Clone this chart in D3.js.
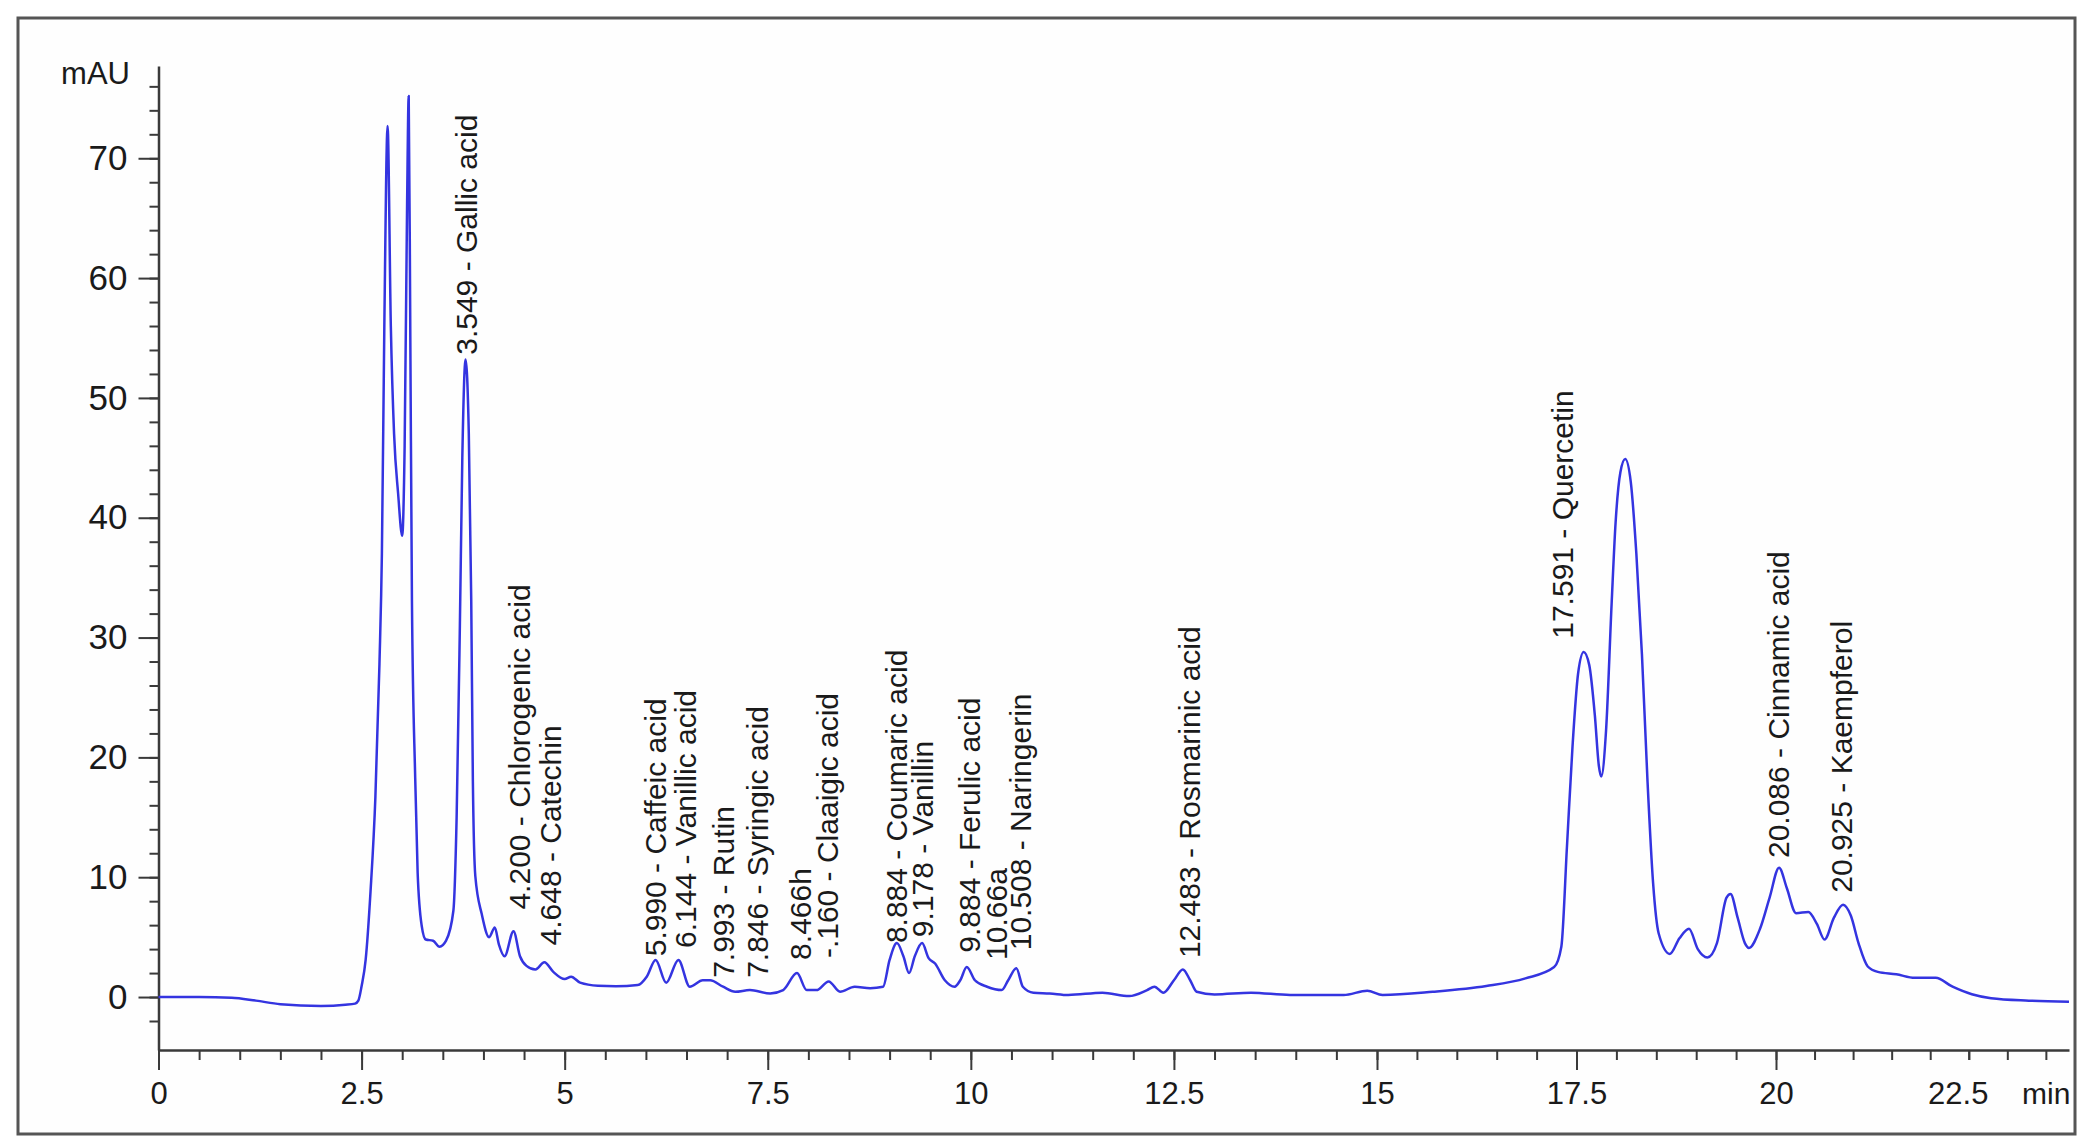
<!DOCTYPE html>
<html>
<head>
<meta charset="utf-8">
<script src="https://cdn.jsdelivr.net/npm/d3@7"></script>
<style>
    body { margin: 0; background: #fff; }
    text { font-family: "Liberation Sans", Arial, sans-serif; fill: #1a1a1a; }
</style>
</head>
<body>
<svg id="chart" width="2093" height="1145"></svg>
<script>
// Retention time (min) and absorbance (mAU)
const times = [0, 0.5, 0.9, 1.2, 1.5, 2.0, 2.3, 2.42, 2.46, 2.50, 2.55, 2.61, 2.67, 2.72, 2.75, 2.78, 2.82,
    2.86, 2.90, 2.95, 3.0, 3.03, 3.06, 3.08, 3.10, 3.12, 3.16, 3.19, 3.24, 3.29, 3.38, 3.46, 3.54, 3.63,
    3.67, 3.71, 3.74, 3.78, 3.82, 3.85, 3.87, 3.90, 3.98, 4.07, 4.14, 4.19, 4.26, 4.37, 4.45, 4.53, 4.64,
    4.75, 4.86, 5.0, 5.08, 5.19, 5.41, 5.63, 5.90, 6.01, 6.12, 6.25, 6.40, 6.54, 6.70, 6.79, 6.95, 7.10,
    7.28, 7.53, 7.69, 7.86, 7.98, 8.10, 8.25, 8.39, 8.57, 8.76, 8.92, 9.0, 9.09, 9.17, 9.24, 9.31, 9.40,
    9.48, 9.56, 9.68, 9.80, 9.87, 9.95, 10.05, 10.20, 10.38, 10.46, 10.56, 10.64, 10.77, 10.97, 11.2,
    11.62, 11.95, 12.17, 12.26, 12.37, 12.50, 12.61, 12.70, 12.78, 13.0, 13.45, 13.93, 14.59, 14.88,
    15.07, 15.70, 16.37, 16.86, 17.22, 17.31, 17.38, 17.45, 17.52, 17.59, 17.66, 17.73, 17.78, 17.81,
    17.87, 17.94, 17.99, 18.05, 18.11, 18.18, 18.25, 18.32, 18.39, 18.46, 18.53, 18.67, 18.79, 18.91,
    19.02, 19.14, 19.26, 19.38, 19.43, 19.52, 19.61, 19.66, 19.80, 19.92, 20.04, 20.14, 20.26, 20.42,
    20.53, 20.63, 20.75, 20.87, 20.97, 21.07, 21.19, 21.32, 21.56, 21.80, 22.07, 22.29, 22.54, 22.79,
    23.28, 23.8];
const absorbance = [0, 0.0, -0.05, -0.3, -0.6, -0.75, -0.65, -0.55, -0.3, 0.9, 3.1, 8.8, 16.7, 27.8, 37, 56, 72.7,
    56, 47, 42, 38.5, 46, 66, 75.2, 55, 33, 18.3, 10.4, 5.95, 4.8, 4.7, 4.2, 4.7, 7.2,
    15, 31, 45, 53.2, 47, 33, 18, 10.1, 6.9, 5.0, 5.8, 4.4, 3.4, 5.5, 3.4, 2.6, 2.3,
    2.9, 2.1, 1.5, 1.7, 1.2, 0.94, 0.9, 1.0, 1.7, 3.1, 1.2, 3.1, 0.86, 1.4, 1.4, 0.86, 0.44,
    0.58, 0.3, 0.58, 2.0, 0.58, 0.58, 1.3, 0.44, 0.86, 0.74, 0.86, 3.1, 4.5, 3.4, 2.0, 3.4, 4.5,
    3.25, 2.8, 1.4, 0.86, 1.4, 2.5, 1.4, 0.86, 0.58, 1.4, 2.4, 0.86, 0.36, 0.3, 0.17,
    0.36, 0.08, 0.58, 0.86, 0.36, 1.4, 2.3, 1.4, 0.44, 0.22, 0.36, 0.17, 0.17, 0.53,
    0.17, 0.44, 0.92, 1.56, 2.5, 4.2, 12.5, 20.9, 27, 28.8, 27.7, 23.5, 19.3, 18.4,
    22.2, 32.8, 39.6, 43.8, 44.9, 43, 37, 28.6, 18, 9.5, 5.3, 3.6, 4.9, 5.7,
    4.0, 3.3, 4.5, 8.3, 8.6, 6.6, 4.5, 4.1, 5.7, 8.3, 10.8, 9.1, 7.0, 7.1,
    6.1, 4.8, 6.6, 7.7, 6.8, 4.5, 2.55, 2.1, 1.9, 1.6, 1.6, 0.86, 0.23, -0.1,
    -0.3, -0.4];

// Peak annotations: text, and where the text starts (min, mAU)
const peakLabels = ["3.549 - Gallic acid", "4.200 - Chlorogenic acid", "4.648 - Catechin",
    "5.990 - Caffeic acid", "6.144 - Vanillic acid", "7.993 - Rutin", "7.846 - Syringic acid",
    "8.466h", "-.160 - Claaigic acid", "8.884 - Coumaric acid", "9.178 - Vanillin",
    "9.884 - Ferulic acid", "10.66a", "10.508 - Naringerin", "12.483 - Rosmarinic acid",
    "17.591 - Quercetin", "20.086 - Cinnamic acid", "20.925 - Kaempferol"];
const labelTimes = [3.79, 4.44, 4.82, 6.12, 6.49, 6.95, 7.37, 7.90, 8.23, 9.08, 9.41, 9.98, 10.31, 10.61,
    12.69, 17.33, 20.03, 20.85];
const labelStarts = [53.6, 7.3, 4.3, 3.4, 4.1, 1.6, 1.6, 3.1, 3.25, 4.5, 5.0, 3.7, 3.1, 3.9,
    3.25, 29.9, 11.6, 8.7];

// Axis ticks
const xMajorTicks = [0, 2.5, 5, 7.5, 10, 12.5, 15, 17.5, 20];
const xLabelTicks = [0, 2.5, 5, 7.5, 10, 12.5, 15, 17.5, 20, 22.5];
const xMinorTicks = d3.range(0.5, 23.6, 0.5);
const yMajorTicks = [0, 10, 20, 30, 40, 50, 60, 70];
const yMinorTicks = d3.range(-2, 77, 2);

const svg = d3.select("#chart");
const labelSize = 30;

// Outer frame
svg.append("rect")
    .attr("x", 18).attr("y", 18)
    .attr("width", 2057).attr("height", 1116)
    .attr("fill", "#fefefe")
    .attr("stroke", "#555").attr("stroke-width", 3);

// The printed time axis is slightly uneven, so the scale follows it piecewise
let x = d3.scaleLinear()
    .domain([0, 15, 20, 23.8])
    .range([158.5, 1377, 1776, 2069]);

let y = d3.scaleLinear()
    .domain([-4.42, 77.7])
    .range([1050, 66]);

// y axis, minor ticks first
svg.append("g")
    .attr("transform", `translate(${x(0)},0)`)
    .call(d3.axisLeft(y).tickValues(yMinorTicks).tickSize(9).tickFormat(""))
    .call(g => g.select(".domain").remove());

let yAxis = svg.append("g")
    .attr("transform", `translate(${x(0)},0)`)
    .call(d3.axisLeft(y).tickValues(yMajorTicks).tickSize(20).tickSizeOuter(0).tickPadding(11));
yAxis.selectAll(".tick text").style("font-size", "35px");

// x axis
svg.append("g")
    .attr("transform", `translate(0,${y.range()[0]})`)
    .call(d3.axisBottom(x).tickValues(xMinorTicks).tickSize(10).tickFormat(""))
    .call(g => g.select(".domain").remove());

let xAxis = svg.append("g")
    .attr("transform", `translate(0,${y.range()[0]})`)
    .call(d3.axisBottom(x).tickValues(xLabelTicks).tickSize(20).tickSizeOuter(0).tickPadding(12)
        .tickFormat(d => String(d)));
xAxis.selectAll(".tick text").style("font-size", "31px");

// 22.5 only gets a short tick in the original
xAxis.selectAll(".tick").filter(d => !xMajorTicks.includes(d))
    .select("line").attr("y2", 10);
xAxis.selectAll(".tick").filter(d => d === 22.5)
    .select("text").attr("dx", -11);

svg.selectAll(".domain").attr("stroke", "#3a3a3a").attr("stroke-width", 2.5);
svg.selectAll(".tick line").attr("stroke", "#3a3a3a").attr("stroke-width", 2);
svg.selectAll(".tick text")
    .style("font-family", '"Liberation Sans", Arial, sans-serif')
    .attr("fill", "#1a1a1a");

// Unit labels
svg.append("text").text("mAU")
    .attr("x", 130).attr("y", 84)
    .attr("text-anchor", "end")
    .style("font-size", "31px");

svg.append("text").text("min")
    .attr("x", 2022).attr("y", 1104)
    .style("font-size", "30px");

// Chromatogram trace
let trace = times.map((t, i) => ({ t: t, v: absorbance[i] }));

let traceLine = d3.line()
    .x(d => x(d.t))
    .y(d => y(d.v))
    .curve(d3.curveMonotoneX);

svg.append("path")
    .datum(trace)
    .attr("d", traceLine)
    .attr("fill", "none")
    .attr("stroke", "#3434e0")
    .attr("stroke-width", 2.5)
    .attr("stroke-linejoin", "round");

// Peak labels, rotated to read upward
let labels = peakLabels.map((s, i) => ({ text: s, t: labelTimes[i], v: labelStarts[i] }));

svg.append("g").selectAll("text")
    .data(labels)
    .join("text")
    .attr("transform", d => `translate(${x(d.t)},${y(d.v)}) rotate(-90)`)
    .attr("dy", "0.35em")
    .style("font-size", labelSize + "px")
    .text(d => d.text);
</script>
</body>
</html>
